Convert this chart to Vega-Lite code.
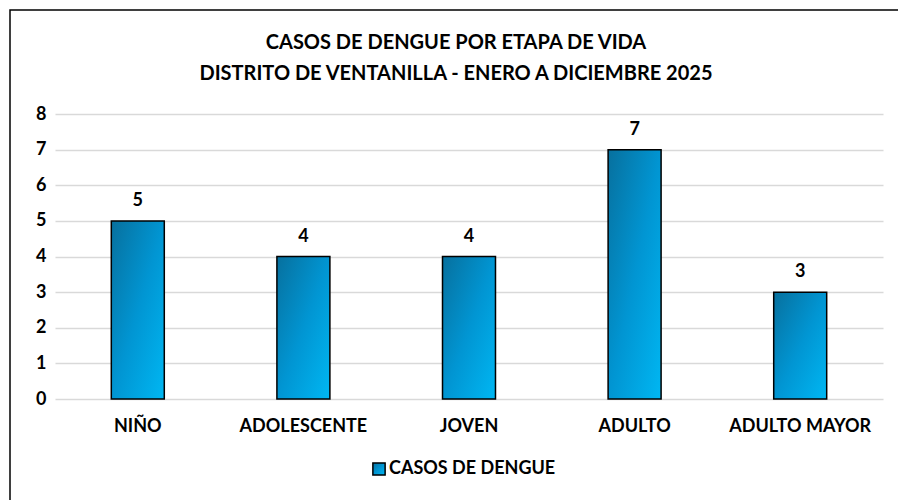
{
  "$schema": "https://vega.github.io/schema/vega-lite/v6.json",
  "width": 892,
  "height": 495,
  "autosize": {"type": "none"},
  "padding": {"left": 10, "top": 10, "right": 0, "bottom": 0},
  "background": "white",
  "config": {
    "view": {"stroke": "#000000", "strokeWidth": 1.5},
    "font": "Lato"
  },
  "title": {
    "text": ["CASOS DE DENGUE POR ETAPA DE VIDA", "DISTRITO DE VENTANILLA - ENERO A DICIEMBRE 2025"],
    "font": "Lato",
    "fontSize": 20,
    "fontWeight": "bold",
    "color": "#000000",
    "anchor": "middle",
    "lineHeight": 31,
    "offset": -74
  },
  "data": {
    "values": [
      {"etapa": "NIÑO", "casos": 5, "serie": "CASOS DE DENGUE"},
      {"etapa": "ADOLESCENTE", "casos": 4, "serie": "CASOS DE DENGUE"},
      {"etapa": "JOVEN", "casos": 4, "serie": "CASOS DE DENGUE"},
      {"etapa": "ADULTO", "casos": 7, "serie": "CASOS DE DENGUE"},
      {"etapa": "ADULTO MAYOR", "casos": 3, "serie": "CASOS DE DENGUE"}
    ]
  },
  "encoding": {
    "x": {
      "field": "etapa",
      "type": "nominal",
      "sort": null,
      "scale": {"range": [45, 873], "paddingInner": 0.68, "paddingOuter": 0.34},
      "axis": {
        "title": null,
        "orient": "bottom",
        "offset": -106,
        "domain": false,
        "ticks": false,
        "grid": false,
        "labelAngle": 0,
        "labelFont": "Lato",
        "labelFontSize": 18,
        "labelFontWeight": "bold",
        "labelColor": "#000000",
        "labelPadding": 18,
        "labelLimit": 400
      }
    },
    "y": {
      "field": "casos",
      "type": "quantitative",
      "scale": {"domain": [0, 8], "range": [389, 104], "nice": false},
      "axis": {
        "title": null,
        "orient": "left",
        "offset": -45,
        "domain": false,
        "ticks": false,
        "values": [0, 1, 2, 3, 4, 5, 6, 7, 8],
        "labelOverlap": false,
        "grid": true,
        "gridColor": "#d9d9d9",
        "gridWidth": 1.5,
        "labelFont": "Lato",
        "labelFontSize": 18,
        "labelFontWeight": "bold",
        "labelColor": "#000000",
        "labelPadding": 9
      }
    }
  },
  "layer": [
    {
      "mark": {
        "type": "bar",
        "fill": {
          "gradient": "linear",
          "x1": 0, "y1": 0, "x2": 1, "y2": 1,
          "stops": [
            {"offset": 0, "color": "#07709e"},
            {"offset": 0.5, "color": "#0195d2"},
            {"offset": 1, "color": "#00b7f3"}
          ]
        },
        "strokeWidth": 1.5
      },
      "encoding": {
        "stroke": {
          "field": "serie",
          "type": "nominal",
          "scale": {"range": ["#000000"]},
          "legend": {
            "title": null,
            "orient": "none",
            "legendX": 360,
            "legendY": 450,
            "symbolType": "square",
            "symbolSize": 150,
            "symbolStrokeWidth": 1.5,
            "labelFont": "Lato",
            "labelFontSize": 18,
            "labelFontWeight": "bold",
            "labelColor": "#000000",
            "labelOffset": 1,
            "labelLimit": 400,
            "encode": {
              "symbols": {
                "update": {
                  "fill": {"value": {
                    "gradient": "linear",
                    "x1": 0, "y1": 0, "x2": 1, "y2": 1,
                    "stops": [
                      {"offset": 0, "color": "#07709e"},
                      {"offset": 1, "color": "#00b7f3"}
                    ]
                  }},
                  "fillOpacity": {"value": 1}
                }
              }
            }
          }
        }
      }
    },
    {
      "mark": {
        "type": "text",
        "baseline": "bottom",
        "dy": -11,
        "font": "Lato",
        "fontSize": 18,
        "fontWeight": "bold",
        "color": "#000000"
      },
      "encoding": {
        "text": {"field": "casos", "type": "quantitative"}
      }
    }
  ]
}
